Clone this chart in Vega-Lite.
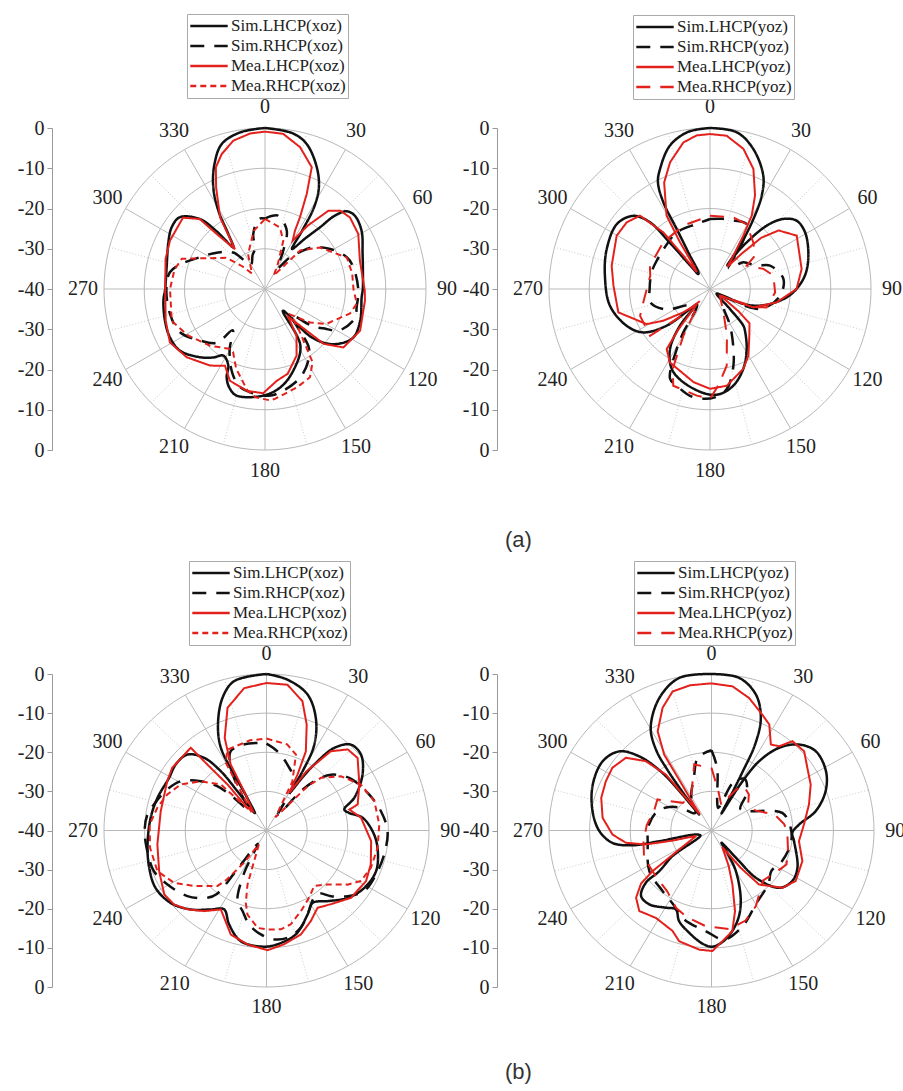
{
"$schema":"https://vega.github.io/schema/vega-lite/v6.json",
"padding":{"left":17,"top":13,"right":2,"bottom":2},
"config":{"view":{"stroke":null},"font":"Liberation Serif"},
"datasets":{
"rings":[{"t":0,"lv":[-30,-20,-10,0]},{"t":10,"lv":[-30,-20,-10,0]},{"t":20,"lv":[-30,-20,-10,0]},{"t":30,"lv":[-30,-20,-10,0]},{"t":40,"lv":[-30,-20,-10,0]},{"t":50,"lv":[-30,-20,-10,0]},{"t":60,"lv":[-30,-20,-10,0]},{"t":70,"lv":[-30,-20,-10,0]},{"t":80,"lv":[-30,-20,-10,0]},{"t":90,"lv":[-30,-20,-10,0]},{"t":100,"lv":[-30,-20,-10,0]},{"t":110,"lv":[-30,-20,-10,0]},{"t":120,"lv":[-30,-20,-10,0]},{"t":130,"lv":[-30,-20,-10,0]},{"t":140,"lv":[-30,-20,-10,0]},{"t":150,"lv":[-30,-20,-10,0]},{"t":160,"lv":[-30,-20,-10,0]},{"t":170,"lv":[-30,-20,-10,0]},{"t":180,"lv":[-30,-20,-10,0]},{"t":190,"lv":[-30,-20,-10,0]},{"t":200,"lv":[-30,-20,-10,0]},{"t":210,"lv":[-30,-20,-10,0]},{"t":220,"lv":[-30,-20,-10,0]},{"t":230,"lv":[-30,-20,-10,0]},{"t":240,"lv":[-30,-20,-10,0]},{"t":250,"lv":[-30,-20,-10,0]},{"t":260,"lv":[-30,-20,-10,0]},{"t":270,"lv":[-30,-20,-10,0]},{"t":280,"lv":[-30,-20,-10,0]},{"t":290,"lv":[-30,-20,-10,0]},{"t":300,"lv":[-30,-20,-10,0]},{"t":310,"lv":[-30,-20,-10,0]},{"t":320,"lv":[-30,-20,-10,0]},{"t":330,"lv":[-30,-20,-10,0]},{"t":340,"lv":[-30,-20,-10,0]},{"t":350,"lv":[-30,-20,-10,0]}],
"spokes":[{"t":0,"k":"major"},{"t":15,"k":"minor"},{"t":30,"k":"major"},{"t":45,"k":"minor"},{"t":60,"k":"major"},{"t":75,"k":"minor"},{"t":90,"k":"major"},{"t":105,"k":"minor"},{"t":120,"k":"major"},{"t":135,"k":"minor"},{"t":150,"k":"major"},{"t":165,"k":"minor"},{"t":180,"k":"major"},{"t":195,"k":"minor"},{"t":210,"k":"major"},{"t":225,"k":"minor"},{"t":240,"k":"major"},{"t":255,"k":"minor"},{"t":270,"k":"major"},{"t":285,"k":"minor"},{"t":300,"k":"major"},{"t":315,"k":"minor"},{"t":330,"k":"major"},{"t":345,"k":"minor"}],
"curves":[
{"p":"a1","s":"Sim.LHCP","t":0,"d":0},{"p":"a1","s":"Sim.LHCP","t":10,"d":-0.7},{"p":"a1","s":"Sim.LHCP","t":16,"d":-2.5},{"p":"a1","s":"Sim.LHCP","t":23,"d":-7.1},{"p":"a1","s":"Sim.LHCP","t":28,"d":-11.5},{"p":"a1","s":"Sim.LHCP","t":31,"d":-16.4},{"p":"a1","s":"Sim.LHCP","t":32.5,"d":-22.9},{"p":"a1","s":"Sim.LHCP","t":34,"d":-28},{"p":"a1","s":"Sim.LHCP","t":38.6,"d":-23.8},{"p":"a1","s":"Sim.LHCP","t":41.7,"d":-19.5},{"p":"a1","s":"Sim.LHCP","t":43.5,"d":-15},{"p":"a1","s":"Sim.LHCP","t":46.4,"d":-12},{"p":"a1","s":"Sim.LHCP","t":50.8,"d":-11.2},{"p":"a1","s":"Sim.LHCP","t":59,"d":-12},{"p":"a1","s":"Sim.LHCP","t":70,"d":-14.2},{"p":"a1","s":"Sim.LHCP","t":80,"d":-15.3},{"p":"a1","s":"Sim.LHCP","t":90,"d":-15.7},{"p":"a1","s":"Sim.LHCP","t":95,"d":-15.9},{"p":"a1","s":"Sim.LHCP","t":108,"d":-15.1},{"p":"a1","s":"Sim.LHCP","t":119,"d":-15},{"p":"a1","s":"Sim.LHCP","t":129,"d":-18.2},{"p":"a1","s":"Sim.LHCP","t":136,"d":-23.3},{"p":"a1","s":"Sim.LHCP","t":140.6,"d":-33},{"p":"a1","s":"Sim.LHCP","t":148,"d":-23.4},{"p":"a1","s":"Sim.LHCP","t":161,"d":-18.5},{"p":"a1","s":"Sim.LHCP","t":171,"d":-15.3},{"p":"a1","s":"Sim.LHCP","t":181,"d":-13.5},{"p":"a1","s":"Sim.LHCP","t":195,"d":-12.6},{"p":"a1","s":"Sim.LHCP","t":200,"d":-14},{"p":"a1","s":"Sim.LHCP","t":203.5,"d":-16.1},{"p":"a1","s":"Sim.LHCP","t":205.6,"d":-18.9},{"p":"a1","s":"Sim.LHCP","t":212,"d":-20.5},{"p":"a1","s":"Sim.LHCP","t":217,"d":-18.7},{"p":"a1","s":"Sim.LHCP","t":223.6,"d":-16.6},{"p":"a1","s":"Sim.LHCP","t":234,"d":-13.9},{"p":"a1","s":"Sim.LHCP","t":243,"d":-13.5},{"p":"a1","s":"Sim.LHCP","t":252,"d":-13.9},{"p":"a1","s":"Sim.LHCP","t":263.5,"d":-14.6},{"p":"a1","s":"Sim.LHCP","t":270,"d":-15.2},{"p":"a1","s":"Sim.LHCP","t":282,"d":-15},{"p":"a1","s":"Sim.LHCP","t":296.6,"d":-13.2},{"p":"a1","s":"Sim.LHCP","t":303.5,"d":-12.2},{"p":"a1","s":"Sim.LHCP","t":310,"d":-12.3},{"p":"a1","s":"Sim.LHCP","t":317,"d":-16.2},{"p":"a1","s":"Sim.LHCP","t":320,"d":-21.2},{"p":"a1","s":"Sim.LHCP","t":322.8,"d":-27},{"p":"a1","s":"Sim.LHCP","t":326.3,"d":-23.6},{"p":"a1","s":"Sim.LHCP","t":329.2,"d":-17.4},{"p":"a1","s":"Sim.LHCP","t":333,"d":-11.7},{"p":"a1","s":"Sim.LHCP","t":338,"d":-6.5},{"p":"a1","s":"Sim.LHCP","t":343.4,"d":-2.4},{"p":"a1","s":"Sim.LHCP","t":351,"d":-0.6},{"p":"a1","s":"Sim.LHCP","t":360,"d":0},
{"p":"a1","s":"Mea.LHCP","t":0,"d":-0.9},{"p":"a1","s":"Mea.LHCP","t":6.7,"d":-1.2},{"p":"a1","s":"Mea.LHCP","t":13.9,"d":-3.7},{"p":"a1","s":"Mea.LHCP","t":21,"d":-7.6},{"p":"a1","s":"Mea.LHCP","t":23.7,"d":-14.2},{"p":"a1","s":"Mea.LHCP","t":26,"d":-20.2},{"p":"a1","s":"Mea.LHCP","t":27.2,"d":-23.7},{"p":"a1","s":"Mea.LHCP","t":29.8,"d":-26.2},{"p":"a1","s":"Mea.LHCP","t":34,"d":-21},{"p":"a1","s":"Mea.LHCP","t":39,"d":-15},{"p":"a1","s":"Mea.LHCP","t":44,"d":-13},{"p":"a1","s":"Mea.LHCP","t":49.9,"d":-12.4},{"p":"a1","s":"Mea.LHCP","t":59.5,"d":-13.1},{"p":"a1","s":"Mea.LHCP","t":73.4,"d":-15.4},{"p":"a1","s":"Mea.LHCP","t":91,"d":-15.2},{"p":"a1","s":"Mea.LHCP","t":96.7,"d":-15},{"p":"a1","s":"Mea.LHCP","t":113.7,"d":-14.2},{"p":"a1","s":"Mea.LHCP","t":126.7,"d":-15.7},{"p":"a1","s":"Mea.LHCP","t":133,"d":-20},{"p":"a1","s":"Mea.LHCP","t":140,"d":-31},{"p":"a1","s":"Mea.LHCP","t":146,"d":-26},{"p":"a1","s":"Mea.LHCP","t":154.6,"d":-21.7},{"p":"a1","s":"Mea.LHCP","t":165,"d":-18.2},{"p":"a1","s":"Mea.LHCP","t":172.7,"d":-17},{"p":"a1","s":"Mea.LHCP","t":181,"d":-14.1},{"p":"a1","s":"Mea.LHCP","t":190,"d":-14.3},{"p":"a1","s":"Mea.LHCP","t":201,"d":-15.6},{"p":"a1","s":"Mea.LHCP","t":207.5,"d":-18.5},{"p":"a1","s":"Mea.LHCP","t":210.4,"d":-17.9},{"p":"a1","s":"Mea.LHCP","t":215.6,"d":-16.6},{"p":"a1","s":"Mea.LHCP","t":228.9,"d":-14.2},{"p":"a1","s":"Mea.LHCP","t":240.7,"d":-12.9},{"p":"a1","s":"Mea.LHCP","t":252.3,"d":-14.1},{"p":"a1","s":"Mea.LHCP","t":270,"d":-15.2},{"p":"a1","s":"Mea.LHCP","t":286.8,"d":-14.2},{"p":"a1","s":"Mea.LHCP","t":297,"d":-13.5},{"p":"a1","s":"Mea.LHCP","t":311,"d":-13},{"p":"a1","s":"Mea.LHCP","t":317,"d":-16.2},{"p":"a1","s":"Mea.LHCP","t":318.7,"d":-21.8},{"p":"a1","s":"Mea.LHCP","t":323,"d":-27.6},{"p":"a1","s":"Mea.LHCP","t":327.9,"d":-19},{"p":"a1","s":"Mea.LHCP","t":334.3,"d":-12},{"p":"a1","s":"Mea.LHCP","t":338,"d":-7.4},{"p":"a1","s":"Mea.LHCP","t":342.2,"d":-4.8},{"p":"a1","s":"Mea.LHCP","t":348,"d":-2.3},{"p":"a1","s":"Mea.LHCP","t":354.5,"d":-1.2},{"p":"a1","s":"Mea.LHCP","t":360,"d":-0.9},
{"p":"a1","s":"Sim.RHCP","t":0,"d":-22.5},{"p":"a1","s":"Sim.RHCP","t":5,"d":-21.8},{"p":"a1","s":"Sim.RHCP","t":10.3,"d":-21.5},{"p":"a1","s":"Sim.RHCP","t":20.4,"d":-24.5},{"p":"a1","s":"Sim.RHCP","t":26,"d":-30},{"p":"a1","s":"Sim.RHCP","t":31,"d":-34},{"p":"a1","s":"Sim.RHCP","t":38,"d":-30},{"p":"a1","s":"Sim.RHCP","t":44,"d":-27},{"p":"a1","s":"Sim.RHCP","t":49,"d":-24.2},{"p":"a1","s":"Sim.RHCP","t":58.4,"d":-21},{"p":"a1","s":"Sim.RHCP","t":68.8,"d":-18.2},{"p":"a1","s":"Sim.RHCP","t":76,"d":-17.4},{"p":"a1","s":"Sim.RHCP","t":91,"d":-16.8},{"p":"a1","s":"Sim.RHCP","t":101,"d":-16.8},{"p":"a1","s":"Sim.RHCP","t":108,"d":-16.5},{"p":"a1","s":"Sim.RHCP","t":119.6,"d":-19},{"p":"a1","s":"Sim.RHCP","t":123,"d":-21.8},{"p":"a1","s":"Sim.RHCP","t":128,"d":-25},{"p":"a1","s":"Sim.RHCP","t":135,"d":-31},{"p":"a1","s":"Sim.RHCP","t":140,"d":-27},{"p":"a1","s":"Sim.RHCP","t":143,"d":-22},{"p":"a1","s":"Sim.RHCP","t":148,"d":-19.5},{"p":"a1","s":"Sim.RHCP","t":158,"d":-16.4},{"p":"a1","s":"Sim.RHCP","t":170,"d":-14.3},{"p":"a1","s":"Sim.RHCP","t":177,"d":-13.5},{"p":"a1","s":"Sim.RHCP","t":185,"d":-13.8},{"p":"a1","s":"Sim.RHCP","t":195,"d":-15},{"p":"a1","s":"Sim.RHCP","t":200,"d":-17},{"p":"a1","s":"Sim.RHCP","t":203,"d":-18.5},{"p":"a1","s":"Sim.RHCP","t":206.6,"d":-20.5},{"p":"a1","s":"Sim.RHCP","t":211,"d":-23},{"p":"a1","s":"Sim.RHCP","t":218,"d":-27},{"p":"a1","s":"Sim.RHCP","t":222,"d":-22},{"p":"a1","s":"Sim.RHCP","t":231.5,"d":-19.4},{"p":"a1","s":"Sim.RHCP","t":243,"d":-16.3},{"p":"a1","s":"Sim.RHCP","t":255,"d":-15.6},{"p":"a1","s":"Sim.RHCP","t":270,"d":-15.5},{"p":"a1","s":"Sim.RHCP","t":280,"d":-16},{"p":"a1","s":"Sim.RHCP","t":286,"d":-18},{"p":"a1","s":"Sim.RHCP","t":296,"d":-22},{"p":"a1","s":"Sim.RHCP","t":307,"d":-25},{"p":"a1","s":"Sim.RHCP","t":319,"d":-28},{"p":"a1","s":"Sim.RHCP","t":330,"d":-33},{"p":"a1","s":"Sim.RHCP","t":340,"d":-31},{"p":"a1","s":"Sim.RHCP","t":346,"d":-29.7},{"p":"a1","s":"Sim.RHCP","t":348,"d":-26},{"p":"a1","s":"Sim.RHCP","t":355,"d":-22.5},{"p":"a1","s":"Sim.RHCP","t":360,"d":-22.5},
{"p":"a1","s":"Mea.RHCP","t":0,"d":-22.6},{"p":"a1","s":"Mea.RHCP","t":13.7,"d":-24.3},{"p":"a1","s":"Mea.RHCP","t":20.8,"d":-27.2},{"p":"a1","s":"Mea.RHCP","t":27,"d":-33},{"p":"a1","s":"Mea.RHCP","t":33,"d":-36},{"p":"a1","s":"Mea.RHCP","t":42.4,"d":-27},{"p":"a1","s":"Mea.RHCP","t":53,"d":-22.9},{"p":"a1","s":"Mea.RHCP","t":69,"d":-18.2},{"p":"a1","s":"Mea.RHCP","t":80,"d":-18},{"p":"a1","s":"Mea.RHCP","t":90.5,"d":-18},{"p":"a1","s":"Mea.RHCP","t":99,"d":-16.9},{"p":"a1","s":"Mea.RHCP","t":106,"d":-18},{"p":"a1","s":"Mea.RHCP","t":115,"d":-21.3},{"p":"a1","s":"Mea.RHCP","t":119.6,"d":-22.4},{"p":"a1","s":"Mea.RHCP","t":126.5,"d":-26},{"p":"a1","s":"Mea.RHCP","t":135,"d":-31},{"p":"a1","s":"Mea.RHCP","t":140,"d":-27},{"p":"a1","s":"Mea.RHCP","t":147,"d":-18.3},{"p":"a1","s":"Mea.RHCP","t":153,"d":-15.4},{"p":"a1","s":"Mea.RHCP","t":162,"d":-14.3},{"p":"a1","s":"Mea.RHCP","t":174.8,"d":-12.6},{"p":"a1","s":"Mea.RHCP","t":177.4,"d":-12.3},{"p":"a1","s":"Mea.RHCP","t":185,"d":-13},{"p":"a1","s":"Mea.RHCP","t":190,"d":-14.5},{"p":"a1","s":"Mea.RHCP","t":200,"d":-19},{"p":"a1","s":"Mea.RHCP","t":207,"d":-22.5},{"p":"a1","s":"Mea.RHCP","t":210,"d":-22.8},{"p":"a1","s":"Mea.RHCP","t":224,"d":-20.4},{"p":"a1","s":"Mea.RHCP","t":238.7,"d":-17.7},{"p":"a1","s":"Mea.RHCP","t":251,"d":-15.5},{"p":"a1","s":"Mea.RHCP","t":270,"d":-16.4},{"p":"a1","s":"Mea.RHCP","t":282,"d":-17},{"p":"a1","s":"Mea.RHCP","t":290,"d":-18},{"p":"a1","s":"Mea.RHCP","t":295,"d":-22},{"p":"a1","s":"Mea.RHCP","t":309,"d":-27.7},{"p":"a1","s":"Mea.RHCP","t":315,"d":-32},{"p":"a1","s":"Mea.RHCP","t":320,"d":-35},{"p":"a1","s":"Mea.RHCP","t":334,"d":-30.4},{"p":"a1","s":"Mea.RHCP","t":349,"d":-25.3},{"p":"a1","s":"Mea.RHCP","t":360,"d":-22.6},
{"p":"a2","s":"Sim.LHCP","t":0,"d":0},{"p":"a2","s":"Sim.LHCP","t":9.7,"d":-0.5},{"p":"a2","s":"Sim.LHCP","t":17.2,"d":-3.6},{"p":"a2","s":"Sim.LHCP","t":25.2,"d":-8.9},{"p":"a2","s":"Sim.LHCP","t":29,"d":-13.5},{"p":"a2","s":"Sim.LHCP","t":31.8,"d":-19.5},{"p":"a2","s":"Sim.LHCP","t":34.7,"d":-26.9},{"p":"a2","s":"Sim.LHCP","t":36,"d":-32.7},{"p":"a2","s":"Sim.LHCP","t":37,"d":-27.6},{"p":"a2","s":"Sim.LHCP","t":41.8,"d":-18.9},{"p":"a2","s":"Sim.LHCP","t":46.3,"d":-14.8},{"p":"a2","s":"Sim.LHCP","t":51.7,"d":-12.6},{"p":"a2","s":"Sim.LHCP","t":59.2,"d":-12.5},{"p":"a2","s":"Sim.LHCP","t":71.3,"d":-14.2},{"p":"a2","s":"Sim.LHCP","t":82,"d":-16.2},{"p":"a2","s":"Sim.LHCP","t":92.3,"d":-19.3},{"p":"a2","s":"Sim.LHCP","t":99.5,"d":-22.4},{"p":"a2","s":"Sim.LHCP","t":108.4,"d":-26.9},{"p":"a2","s":"Sim.LHCP","t":114,"d":-30.9},{"p":"a2","s":"Sim.LHCP","t":117,"d":-36.3},{"p":"a2","s":"Sim.LHCP","t":125,"d":-38},{"p":"a2","s":"Sim.LHCP","t":135,"d":-33},{"p":"a2","s":"Sim.LHCP","t":137.7,"d":-27.7},{"p":"a2","s":"Sim.LHCP","t":140,"d":-26.5},{"p":"a2","s":"Sim.LHCP","t":148.6,"d":-22.5},{"p":"a2","s":"Sim.LHCP","t":157.4,"d":-18.5},{"p":"a2","s":"Sim.LHCP","t":166.4,"d":-15.3},{"p":"a2","s":"Sim.LHCP","t":174.6,"d":-13.8},{"p":"a2","s":"Sim.LHCP","t":181.8,"d":-13.9},{"p":"a2","s":"Sim.LHCP","t":196,"d":-15.9},{"p":"a2","s":"Sim.LHCP","t":205.6,"d":-18},{"p":"a2","s":"Sim.LHCP","t":213.7,"d":-22.1},{"p":"a2","s":"Sim.LHCP","t":219.3,"d":-28.2},{"p":"a2","s":"Sim.LHCP","t":221,"d":-35},{"p":"a2","s":"Sim.LHCP","t":225,"d":-33},{"p":"a2","s":"Sim.LHCP","t":229.8,"d":-25.9},{"p":"a2","s":"Sim.LHCP","t":237,"d":-20.2},{"p":"a2","s":"Sim.LHCP","t":246,"d":-17.4},{"p":"a2","s":"Sim.LHCP","t":260.5,"d":-14.8},{"p":"a2","s":"Sim.LHCP","t":277,"d":-13.7},{"p":"a2","s":"Sim.LHCP","t":291,"d":-12.5},{"p":"a2","s":"Sim.LHCP","t":305,"d":-11.8},{"p":"a2","s":"Sim.LHCP","t":313.7,"d":-13.7},{"p":"a2","s":"Sim.LHCP","t":318,"d":-17.7},{"p":"a2","s":"Sim.LHCP","t":319,"d":-24.8},{"p":"a2","s":"Sim.LHCP","t":320,"d":-32.4},{"p":"a2","s":"Sim.LHCP","t":322,"d":-35.3},{"p":"a2","s":"Sim.LHCP","t":325,"d":-35},{"p":"a2","s":"Sim.LHCP","t":329,"d":-30.3},{"p":"a2","s":"Sim.LHCP","t":331,"d":-23},{"p":"a2","s":"Sim.LHCP","t":331.7,"d":-15.6},{"p":"a2","s":"Sim.LHCP","t":334,"d":-10.5},{"p":"a2","s":"Sim.LHCP","t":337.4,"d":-7.7},{"p":"a2","s":"Sim.LHCP","t":344.4,"d":-3},{"p":"a2","s":"Sim.LHCP","t":352,"d":-0.6},{"p":"a2","s":"Sim.LHCP","t":360,"d":0},
{"p":"a2","s":"Mea.LHCP","t":0,"d":-1.5},{"p":"a2","s":"Mea.LHCP","t":6.2,"d":-1.7},{"p":"a2","s":"Mea.LHCP","t":13.4,"d":-4.2},{"p":"a2","s":"Mea.LHCP","t":19.9,"d":-8.3},{"p":"a2","s":"Mea.LHCP","t":25.7,"d":-14.2},{"p":"a2","s":"Mea.LHCP","t":29.6,"d":-19},{"p":"a2","s":"Mea.LHCP","t":32,"d":-24.4},{"p":"a2","s":"Mea.LHCP","t":35,"d":-29.9},{"p":"a2","s":"Mea.LHCP","t":38,"d":-33},{"p":"a2","s":"Mea.LHCP","t":42,"d":-28},{"p":"a2","s":"Mea.LHCP","t":45,"d":-22},{"p":"a2","s":"Mea.LHCP","t":49.5,"d":-17.6},{"p":"a2","s":"Mea.LHCP","t":58.4,"d":-14.7},{"p":"a2","s":"Mea.LHCP","t":77.7,"d":-16.7},{"p":"a2","s":"Mea.LHCP","t":90,"d":-18.5},{"p":"a2","s":"Mea.LHCP","t":101.3,"d":-23.1},{"p":"a2","s":"Mea.LHCP","t":113,"d":-28.3},{"p":"a2","s":"Mea.LHCP","t":116,"d":-33.7},{"p":"a2","s":"Mea.LHCP","t":122,"d":-37},{"p":"a2","s":"Mea.LHCP","t":128,"d":-31},{"p":"a2","s":"Mea.LHCP","t":131,"d":-27},{"p":"a2","s":"Mea.LHCP","t":140,"d":-24.8},{"p":"a2","s":"Mea.LHCP","t":150,"d":-20.9},{"p":"a2","s":"Mea.LHCP","t":157.4,"d":-18.5},{"p":"a2","s":"Mea.LHCP","t":170.2,"d":-15.6},{"p":"a2","s":"Mea.LHCP","t":180,"d":-15.2},{"p":"a2","s":"Mea.LHCP","t":190,"d":-16.5},{"p":"a2","s":"Mea.LHCP","t":208.6,"d":-19.2},{"p":"a2","s":"Mea.LHCP","t":215.8,"d":-21.6},{"p":"a2","s":"Mea.LHCP","t":218,"d":-27.2},{"p":"a2","s":"Mea.LHCP","t":221,"d":-35},{"p":"a2","s":"Mea.LHCP","t":228.8,"d":-31.2},{"p":"a2","s":"Mea.LHCP","t":235.8,"d":-26},{"p":"a2","s":"Mea.LHCP","t":241,"d":-22},{"p":"a2","s":"Mea.LHCP","t":255.7,"d":-16.5},{"p":"a2","s":"Mea.LHCP","t":272,"d":-16},{"p":"a2","s":"Mea.LHCP","t":283.3,"d":-14.9},{"p":"a2","s":"Mea.LHCP","t":299.7,"d":-13.3},{"p":"a2","s":"Mea.LHCP","t":308.7,"d":-13.5},{"p":"a2","s":"Mea.LHCP","t":316.3,"d":-14.8},{"p":"a2","s":"Mea.LHCP","t":320.5,"d":-21.8},{"p":"a2","s":"Mea.LHCP","t":321.3,"d":-29.4},{"p":"a2","s":"Mea.LHCP","t":322,"d":-34.7},{"p":"a2","s":"Mea.LHCP","t":325,"d":-33},{"p":"a2","s":"Mea.LHCP","t":327.3,"d":-26.2},{"p":"a2","s":"Mea.LHCP","t":329.4,"d":-18.8},{"p":"a2","s":"Mea.LHCP","t":336.7,"d":-11.2},{"p":"a2","s":"Mea.LHCP","t":342.5,"d":-7},{"p":"a2","s":"Mea.LHCP","t":349.7,"d":-3},{"p":"a2","s":"Mea.LHCP","t":355,"d":-1.7},{"p":"a2","s":"Mea.LHCP","t":360,"d":-1.5},
{"p":"a2","s":"Sim.RHCP","t":0,"d":-22.6},{"p":"a2","s":"Sim.RHCP","t":10,"d":-22.3},{"p":"a2","s":"Sim.RHCP","t":19,"d":-22},{"p":"a2","s":"Sim.RHCP","t":29.4,"d":-21.5},{"p":"a2","s":"Sim.RHCP","t":35,"d":-26},{"p":"a2","s":"Sim.RHCP","t":42,"d":-33},{"p":"a2","s":"Sim.RHCP","t":48,"d":-31},{"p":"a2","s":"Sim.RHCP","t":51.3,"d":-29.4},{"p":"a2","s":"Sim.RHCP","t":63.4,"d":-27},{"p":"a2","s":"Sim.RHCP","t":68.7,"d":-24},{"p":"a2","s":"Sim.RHCP","t":82,"d":-21.6},{"p":"a2","s":"Sim.RHCP","t":95.4,"d":-22.5},{"p":"a2","s":"Sim.RHCP","t":110,"d":-25.9},{"p":"a2","s":"Sim.RHCP","t":114.6,"d":-29},{"p":"a2","s":"Sim.RHCP","t":125,"d":-36},{"p":"a2","s":"Sim.RHCP","t":145,"d":-34},{"p":"a2","s":"Sim.RHCP","t":150,"d":-30.7},{"p":"a2","s":"Sim.RHCP","t":155,"d":-27},{"p":"a2","s":"Sim.RHCP","t":163,"d":-20.1},{"p":"a2","s":"Sim.RHCP","t":170.5,"d":-14.8},{"p":"a2","s":"Sim.RHCP","t":178,"d":-13},{"p":"a2","s":"Sim.RHCP","t":183.5,"d":-12.7},{"p":"a2","s":"Sim.RHCP","t":190.6,"d":-13},{"p":"a2","s":"Sim.RHCP","t":199,"d":-14.6},{"p":"a2","s":"Sim.RHCP","t":204,"d":-15.6},{"p":"a2","s":"Sim.RHCP","t":209,"d":-23},{"p":"a2","s":"Sim.RHCP","t":211.6,"d":-27.3},{"p":"a2","s":"Sim.RHCP","t":220,"d":-35},{"p":"a2","s":"Sim.RHCP","t":235,"d":-33},{"p":"a2","s":"Sim.RHCP","t":245,"d":-28},{"p":"a2","s":"Sim.RHCP","t":257.5,"d":-24.8},{"p":"a2","s":"Sim.RHCP","t":270,"d":-25},{"p":"a2","s":"Sim.RHCP","t":286,"d":-24.9},{"p":"a2","s":"Sim.RHCP","t":300,"d":-25},{"p":"a2","s":"Sim.RHCP","t":310.6,"d":-24.8},{"p":"a2","s":"Sim.RHCP","t":329.5,"d":-23.7},{"p":"a2","s":"Sim.RHCP","t":348.4,"d":-23.5},{"p":"a2","s":"Sim.RHCP","t":360,"d":-22.6},
{"p":"a2","s":"Mea.RHCP","t":0,"d":-21.8},{"p":"a2","s":"Mea.RHCP","t":18,"d":-21.3},{"p":"a2","s":"Mea.RHCP","t":29.4,"d":-21.5},{"p":"a2","s":"Mea.RHCP","t":42.9,"d":-24.2},{"p":"a2","s":"Mea.RHCP","t":53.5,"d":-26.1},{"p":"a2","s":"Mea.RHCP","t":57.5,"d":-29.2},{"p":"a2","s":"Mea.RHCP","t":69.4,"d":-25.8},{"p":"a2","s":"Mea.RHCP","t":78,"d":-23.9},{"p":"a2","s":"Mea.RHCP","t":93,"d":-23.8},{"p":"a2","s":"Mea.RHCP","t":108,"d":-25.2},{"p":"a2","s":"Mea.RHCP","t":111.4,"d":-27.6},{"p":"a2","s":"Mea.RHCP","t":125,"d":-37},{"p":"a2","s":"Mea.RHCP","t":150,"d":-33.3},{"p":"a2","s":"Mea.RHCP","t":160,"d":-27.7},{"p":"a2","s":"Mea.RHCP","t":167.7,"d":-20.5},{"p":"a2","s":"Mea.RHCP","t":175,"d":-16},{"p":"a2","s":"Mea.RHCP","t":180,"d":-12.7},{"p":"a2","s":"Mea.RHCP","t":187,"d":-13.3},{"p":"a2","s":"Mea.RHCP","t":200.8,"d":-14.3},{"p":"a2","s":"Mea.RHCP","t":205,"d":-18},{"p":"a2","s":"Mea.RHCP","t":209.7,"d":-26.7},{"p":"a2","s":"Mea.RHCP","t":220,"d":-36},{"p":"a2","s":"Mea.RHCP","t":227,"d":-30},{"p":"a2","s":"Mea.RHCP","t":232,"d":-21.1},{"p":"a2","s":"Mea.RHCP","t":249,"d":-21.4},{"p":"a2","s":"Mea.RHCP","t":258.7,"d":-23.1},{"p":"a2","s":"Mea.RHCP","t":282.5,"d":-24.8},{"p":"a2","s":"Mea.RHCP","t":291,"d":-24},{"p":"a2","s":"Mea.RHCP","t":315,"d":-23.6},{"p":"a2","s":"Mea.RHCP","t":337,"d":-22.9},{"p":"a2","s":"Mea.RHCP","t":360,"d":-21.8},
{"p":"b1","s":"Sim.LHCP","t":0,"d":0},{"p":"b1","s":"Sim.LHCP","t":7.6,"d":-1.1},{"p":"b1","s":"Sim.LHCP","t":16.2,"d":-3.8},{"p":"b1","s":"Sim.LHCP","t":22.9,"d":-8.8},{"p":"b1","s":"Sim.LHCP","t":28.2,"d":-15.1},{"p":"b1","s":"Sim.LHCP","t":30.4,"d":-22.4},{"p":"b1","s":"Sim.LHCP","t":31,"d":-28.5},{"p":"b1","s":"Sim.LHCP","t":33,"d":-24},{"p":"b1","s":"Sim.LHCP","t":34.9,"d":-19.4},{"p":"b1","s":"Sim.LHCP","t":38.3,"d":-13.1},{"p":"b1","s":"Sim.LHCP","t":43.4,"d":-9.8},{"p":"b1","s":"Sim.LHCP","t":50.1,"d":-9.7},{"p":"b1","s":"Sim.LHCP","t":58.9,"d":-12.4},{"p":"b1","s":"Sim.LHCP","t":68.8,"d":-16.8},{"p":"b1","s":"Sim.LHCP","t":74.3,"d":-20.1},{"p":"b1","s":"Sim.LHCP","t":77.5,"d":-19.2},{"p":"b1","s":"Sim.LHCP","t":82.2,"d":-16.1},{"p":"b1","s":"Sim.LHCP","t":92.2,"d":-13.5},{"p":"b1","s":"Sim.LHCP","t":100.9,"d":-12.1},{"p":"b1","s":"Sim.LHCP","t":111.1,"d":-11.1},{"p":"b1","s":"Sim.LHCP","t":121.3,"d":-11.8},{"p":"b1","s":"Sim.LHCP","t":130.8,"d":-13.6},{"p":"b1","s":"Sim.LHCP","t":140.2,"d":-16.5},{"p":"b1","s":"Sim.LHCP","t":148.5,"d":-18.3},{"p":"b1","s":"Sim.LHCP","t":154.7,"d":-16.3},{"p":"b1","s":"Sim.LHCP","t":164.8,"d":-12.5},{"p":"b1","s":"Sim.LHCP","t":174.7,"d":-10.8},{"p":"b1","s":"Sim.LHCP","t":181.1,"d":-10.3},{"p":"b1","s":"Sim.LHCP","t":192.6,"d":-11},{"p":"b1","s":"Sim.LHCP","t":201,"d":-14.3},{"p":"b1","s":"Sim.LHCP","t":207.4,"d":-17.3},{"p":"b1","s":"Sim.LHCP","t":214.2,"d":-15.6},{"p":"b1","s":"Sim.LHCP","t":222.8,"d":-12.5},{"p":"b1","s":"Sim.LHCP","t":231.9,"d":-10},{"p":"b1","s":"Sim.LHCP","t":241.8,"d":-9},{"p":"b1","s":"Sim.LHCP","t":251.8,"d":-9.6},{"p":"b1","s":"Sim.LHCP","t":263,"d":-10.5},{"p":"b1","s":"Sim.LHCP","t":276.5,"d":-11.3},{"p":"b1","s":"Sim.LHCP","t":287.3,"d":-11.9},{"p":"b1","s":"Sim.LHCP","t":299.3,"d":-12.5},{"p":"b1","s":"Sim.LHCP","t":307,"d":-12},{"p":"b1","s":"Sim.LHCP","t":314.9,"d":-12.5},{"p":"b1","s":"Sim.LHCP","t":320.4,"d":-15.9},{"p":"b1","s":"Sim.LHCP","t":323.4,"d":-21.1},{"p":"b1","s":"Sim.LHCP","t":324.5,"d":-27.7},{"p":"b1","s":"Sim.LHCP","t":327,"d":-34.7},{"p":"b1","s":"Sim.LHCP","t":330.5,"d":-30},{"p":"b1","s":"Sim.LHCP","t":331,"d":-23.7},{"p":"b1","s":"Sim.LHCP","t":332,"d":-16.1},{"p":"b1","s":"Sim.LHCP","t":336.2,"d":-10.4},{"p":"b1","s":"Sim.LHCP","t":342.3,"d":-4.4},{"p":"b1","s":"Sim.LHCP","t":348.2,"d":-1},{"p":"b1","s":"Sim.LHCP","t":360,"d":0},
{"p":"b1","s":"Mea.LHCP","t":0,"d":-2.3},{"p":"b1","s":"Mea.LHCP","t":7.9,"d":-2.4},{"p":"b1","s":"Mea.LHCP","t":15,"d":-5.8},{"p":"b1","s":"Mea.LHCP","t":20.1,"d":-11.2},{"p":"b1","s":"Mea.LHCP","t":25.6,"d":-17.6},{"p":"b1","s":"Mea.LHCP","t":28.1,"d":-23.8},{"p":"b1","s":"Mea.LHCP","t":30.3,"d":-28.9},{"p":"b1","s":"Mea.LHCP","t":33,"d":-22},{"p":"b1","s":"Mea.LHCP","t":38,"d":-14.3},{"p":"b1","s":"Mea.LHCP","t":44,"d":-11.2},{"p":"b1","s":"Mea.LHCP","t":50.4,"d":-10.9},{"p":"b1","s":"Mea.LHCP","t":62.8,"d":-14.3},{"p":"b1","s":"Mea.LHCP","t":73.5,"d":-16.6},{"p":"b1","s":"Mea.LHCP","t":75.3,"d":-18.9},{"p":"b1","s":"Mea.LHCP","t":82,"d":-16.5},{"p":"b1","s":"Mea.LHCP","t":96,"d":-14.1},{"p":"b1","s":"Mea.LHCP","t":108.7,"d":-12.9},{"p":"b1","s":"Mea.LHCP","t":117.8,"d":-12.3},{"p":"b1","s":"Mea.LHCP","t":129.6,"d":-13},{"p":"b1","s":"Mea.LHCP","t":140,"d":-15.4},{"p":"b1","s":"Mea.LHCP","t":147.5,"d":-16.6},{"p":"b1","s":"Mea.LHCP","t":154.8,"d":-14.4},{"p":"b1","s":"Mea.LHCP","t":162.4,"d":-12.1},{"p":"b1","s":"Mea.LHCP","t":171.5,"d":-10.6},{"p":"b1","s":"Mea.LHCP","t":179.5,"d":-9.4},{"p":"b1","s":"Mea.LHCP","t":189.1,"d":-10.5},{"p":"b1","s":"Mea.LHCP","t":198.3,"d":-12},{"p":"b1","s":"Mea.LHCP","t":205.1,"d":-15.4},{"p":"b1","s":"Mea.LHCP","t":209.1,"d":-16.9},{"p":"b1","s":"Mea.LHCP","t":216.7,"d":-14.3},{"p":"b1","s":"Mea.LHCP","t":224,"d":-12},{"p":"b1","s":"Mea.LHCP","t":230.3,"d":-10.4},{"p":"b1","s":"Mea.LHCP","t":237,"d":-10},{"p":"b1","s":"Mea.LHCP","t":248.5,"d":-11.6},{"p":"b1","s":"Mea.LHCP","t":262.4,"d":-12.9},{"p":"b1","s":"Mea.LHCP","t":280.7,"d":-13.5},{"p":"b1","s":"Mea.LHCP","t":297.3,"d":-12.5},{"p":"b1","s":"Mea.LHCP","t":304.6,"d":-11.8},{"p":"b1","s":"Mea.LHCP","t":318.6,"d":-11.8},{"p":"b1","s":"Mea.LHCP","t":319.2,"d":-17.8},{"p":"b1","s":"Mea.LHCP","t":320.8,"d":-24.8},{"p":"b1","s":"Mea.LHCP","t":321,"d":-32.6},{"p":"b1","s":"Mea.LHCP","t":326,"d":-34},{"p":"b1","s":"Mea.LHCP","t":331.2,"d":-28.6},{"p":"b1","s":"Mea.LHCP","t":332.4,"d":-21},{"p":"b1","s":"Mea.LHCP","t":336.5,"d":-14.2},{"p":"b1","s":"Mea.LHCP","t":343,"d":-7.2},{"p":"b1","s":"Mea.LHCP","t":351.4,"d":-3.2},{"p":"b1","s":"Mea.LHCP","t":360,"d":-2.3},
{"p":"b1","s":"Sim.RHCP","t":0,"d":-17.8},{"p":"b1","s":"Sim.RHCP","t":7.6,"d":-19.6},{"p":"b1","s":"Sim.RHCP","t":17,"d":-22.4},{"p":"b1","s":"Sim.RHCP","t":28.4,"d":-25.7},{"p":"b1","s":"Sim.RHCP","t":35,"d":-35},{"p":"b1","s":"Sim.RHCP","t":40,"d":-26.9},{"p":"b1","s":"Sim.RHCP","t":43,"d":-22.8},{"p":"b1","s":"Sim.RHCP","t":48,"d":-18.7},{"p":"b1","s":"Sim.RHCP","t":56.6,"d":-15.6},{"p":"b1","s":"Sim.RHCP","t":68.9,"d":-13.3},{"p":"b1","s":"Sim.RHCP","t":80.1,"d":-11.4},{"p":"b1","s":"Sim.RHCP","t":90.3,"d":-10.2},{"p":"b1","s":"Sim.RHCP","t":101.9,"d":-10.4},{"p":"b1","s":"Sim.RHCP","t":112.6,"d":-10.8},{"p":"b1","s":"Sim.RHCP","t":122.7,"d":-11.4},{"p":"b1","s":"Sim.RHCP","t":130,"d":-13.9},{"p":"b1","s":"Sim.RHCP","t":136.6,"d":-16.9},{"p":"b1","s":"Sim.RHCP","t":141.4,"d":-19.4},{"p":"b1","s":"Sim.RHCP","t":147,"d":-19},{"p":"b1","s":"Sim.RHCP","t":152.4,"d":-17.2},{"p":"b1","s":"Sim.RHCP","t":161.2,"d":-13.8},{"p":"b1","s":"Sim.RHCP","t":169.3,"d":-12.1},{"p":"b1","s":"Sim.RHCP","t":176.1,"d":-12.1},{"p":"b1","s":"Sim.RHCP","t":183,"d":-13.4},{"p":"b1","s":"Sim.RHCP","t":190.1,"d":-15.6},{"p":"b1","s":"Sim.RHCP","t":196,"d":-18.6},{"p":"b1","s":"Sim.RHCP","t":201.6,"d":-20.6},{"p":"b1","s":"Sim.RHCP","t":207,"d":-28},{"p":"b1","s":"Sim.RHCP","t":212,"d":-36},{"p":"b1","s":"Sim.RHCP","t":216,"d":-27},{"p":"b1","s":"Sim.RHCP","t":217,"d":-19.7},{"p":"b1","s":"Sim.RHCP","t":220.2,"d":-17.5},{"p":"b1","s":"Sim.RHCP","t":229.3,"d":-14.3},{"p":"b1","s":"Sim.RHCP","t":240.5,"d":-12},{"p":"b1","s":"Sim.RHCP","t":249.4,"d":-10.4},{"p":"b1","s":"Sim.RHCP","t":259.8,"d":-10.2},{"p":"b1","s":"Sim.RHCP","t":269.7,"d":-10},{"p":"b1","s":"Sim.RHCP","t":277.9,"d":-10.4},{"p":"b1","s":"Sim.RHCP","t":283.5,"d":-11.5},{"p":"b1","s":"Sim.RHCP","t":293.2,"d":-13.4},{"p":"b1","s":"Sim.RHCP","t":300.8,"d":-15.4},{"p":"b1","s":"Sim.RHCP","t":307.9,"d":-19.5},{"p":"b1","s":"Sim.RHCP","t":313,"d":-23.4},{"p":"b1","s":"Sim.RHCP","t":316,"d":-28},{"p":"b1","s":"Sim.RHCP","t":320,"d":-33},{"p":"b1","s":"Sim.RHCP","t":328,"d":-26},{"p":"b1","s":"Sim.RHCP","t":332,"d":-21},{"p":"b1","s":"Sim.RHCP","t":336.5,"d":-17.9},{"p":"b1","s":"Sim.RHCP","t":345,"d":-17.3},{"p":"b1","s":"Sim.RHCP","t":354.4,"d":-17.5},{"p":"b1","s":"Sim.RHCP","t":360,"d":-17.8},
{"p":"b1","s":"Mea.RHCP","t":0,"d":-16.5},{"p":"b1","s":"Mea.RHCP","t":13,"d":-17.4},{"p":"b1","s":"Mea.RHCP","t":20.5,"d":-19.3},{"p":"b1","s":"Mea.RHCP","t":27,"d":-26},{"p":"b1","s":"Mea.RHCP","t":33,"d":-36},{"p":"b1","s":"Mea.RHCP","t":41.8,"d":-24.8},{"p":"b1","s":"Mea.RHCP","t":44.9,"d":-21},{"p":"b1","s":"Mea.RHCP","t":52.9,"d":-17},{"p":"b1","s":"Mea.RHCP","t":63.2,"d":-14},{"p":"b1","s":"Mea.RHCP","t":74.2,"d":-12.4},{"p":"b1","s":"Mea.RHCP","t":86.9,"d":-12.2},{"p":"b1","s":"Mea.RHCP","t":99.2,"d":-12.3},{"p":"b1","s":"Mea.RHCP","t":110.3,"d":-12.6},{"p":"b1","s":"Mea.RHCP","t":119,"d":-13.4},{"p":"b1","s":"Mea.RHCP","t":124.7,"d":-15.7},{"p":"b1","s":"Mea.RHCP","t":132.5,"d":-19.6},{"p":"b1","s":"Mea.RHCP","t":140.4,"d":-21.6},{"p":"b1","s":"Mea.RHCP","t":148,"d":-20},{"p":"b1","s":"Mea.RHCP","t":157.7,"d":-17.7},{"p":"b1","s":"Mea.RHCP","t":166,"d":-15.3},{"p":"b1","s":"Mea.RHCP","t":172,"d":-14.5},{"p":"b1","s":"Mea.RHCP","t":179.4,"d":-14.7},{"p":"b1","s":"Mea.RHCP","t":185,"d":-15},{"p":"b1","s":"Mea.RHCP","t":192.3,"d":-18},{"p":"b1","s":"Mea.RHCP","t":195.4,"d":-20.8},{"p":"b1","s":"Mea.RHCP","t":198.7,"d":-25.4},{"p":"b1","s":"Mea.RHCP","t":208,"d":-36},{"p":"b1","s":"Mea.RHCP","t":214,"d":-30},{"p":"b1","s":"Mea.RHCP","t":218,"d":-24},{"p":"b1","s":"Mea.RHCP","t":220.4,"d":-21.4},{"p":"b1","s":"Mea.RHCP","t":231.5,"d":-17.2},{"p":"b1","s":"Mea.RHCP","t":239.6,"d":-13.6},{"p":"b1","s":"Mea.RHCP","t":248.8,"d":-11.2},{"p":"b1","s":"Mea.RHCP","t":261.2,"d":-11},{"p":"b1","s":"Mea.RHCP","t":273,"d":-11.2},{"p":"b1","s":"Mea.RHCP","t":282.2,"d":-12.5},{"p":"b1","s":"Mea.RHCP","t":290.7,"d":-13.9},{"p":"b1","s":"Mea.RHCP","t":299,"d":-15.8},{"p":"b1","s":"Mea.RHCP","t":307.9,"d":-19.5},{"p":"b1","s":"Mea.RHCP","t":316.3,"d":-23.8},{"p":"b1","s":"Mea.RHCP","t":322,"d":-34},{"p":"b1","s":"Mea.RHCP","t":330,"d":-20},{"p":"b1","s":"Mea.RHCP","t":335,"d":-17.2},{"p":"b1","s":"Mea.RHCP","t":350,"d":-16.6},{"p":"b1","s":"Mea.RHCP","t":360,"d":-16.5},
{"p":"b2","s":"Sim.LHCP","t":0,"d":0},{"p":"b2","s":"Sim.LHCP","t":9.9,"d":-0.4},{"p":"b2","s":"Sim.LHCP","t":17.5,"d":-3.6},{"p":"b2","s":"Sim.LHCP","t":22.9,"d":-8.8},{"p":"b2","s":"Sim.LHCP","t":26,"d":-15.5},{"p":"b2","s":"Sim.LHCP","t":27,"d":-23},{"p":"b2","s":"Sim.LHCP","t":28,"d":-29.8},{"p":"b2","s":"Sim.LHCP","t":29.5,"d":-35},{"p":"b2","s":"Sim.LHCP","t":31,"d":-26.4},{"p":"b2","s":"Sim.LHCP","t":33.5,"d":-18.8},{"p":"b2","s":"Sim.LHCP","t":38.2,"d":-13.1},{"p":"b2","s":"Sim.LHCP","t":44.5,"d":-9.2},{"p":"b2","s":"Sim.LHCP","t":51.7,"d":-7.3},{"p":"b2","s":"Sim.LHCP","t":61.7,"d":-8},{"p":"b2","s":"Sim.LHCP","t":70.4,"d":-10.2},{"p":"b2","s":"Sim.LHCP","t":79.1,"d":-13.9},{"p":"b2","s":"Sim.LHCP","t":86,"d":-18.4},{"p":"b2","s":"Sim.LHCP","t":91.7,"d":-20.1},{"p":"b2","s":"Sim.LHCP","t":97.6,"d":-19.5},{"p":"b2","s":"Sim.LHCP","t":114.2,"d":-16.8},{"p":"b2","s":"Sim.LHCP","t":123,"d":-16.3},{"p":"b2","s":"Sim.LHCP","t":131.3,"d":-17.8},{"p":"b2","s":"Sim.LHCP","t":137.9,"d":-23.7},{"p":"b2","s":"Sim.LHCP","t":139,"d":-29.6},{"p":"b2","s":"Sim.LHCP","t":142,"d":-36},{"p":"b2","s":"Sim.LHCP","t":146,"d":-33},{"p":"b2","s":"Sim.LHCP","t":150,"d":-28},{"p":"b2","s":"Sim.LHCP","t":158.2,"d":-20.6},{"p":"b2","s":"Sim.LHCP","t":164.6,"d":-16},{"p":"b2","s":"Sim.LHCP","t":172.8,"d":-12},{"p":"b2","s":"Sim.LHCP","t":179.5,"d":-10.3},{"p":"b2","s":"Sim.LHCP","t":184.4,"d":-11},{"p":"b2","s":"Sim.LHCP","t":191.9,"d":-13.3},{"p":"b2","s":"Sim.LHCP","t":199,"d":-15.5},{"p":"b2","s":"Sim.LHCP","t":203.5,"d":-18},{"p":"b2","s":"Sim.LHCP","t":209.6,"d":-17.3},{"p":"b2","s":"Sim.LHCP","t":219,"d":-15.7},{"p":"b2","s":"Sim.LHCP","t":226,"d":-15.9},{"p":"b2","s":"Sim.LHCP","t":230.4,"d":-19},{"p":"b2","s":"Sim.LHCP","t":231,"d":-23.4},{"p":"b2","s":"Sim.LHCP","t":235.7,"d":-28.4},{"p":"b2","s":"Sim.LHCP","t":245,"d":-37},{"p":"b2","s":"Sim.LHCP","t":255,"d":-36},{"p":"b2","s":"Sim.LHCP","t":258,"d":-26.8},{"p":"b2","s":"Sim.LHCP","t":259,"d":-20.2},{"p":"b2","s":"Sim.LHCP","t":262.6,"d":-15.4},{"p":"b2","s":"Sim.LHCP","t":269.7,"d":-12.4},{"p":"b2","s":"Sim.LHCP","t":279.6,"d":-10.3},{"p":"b2","s":"Sim.LHCP","t":291.9,"d":-8.5},{"p":"b2","s":"Sim.LHCP","t":303.5,"d":-7.9},{"p":"b2","s":"Sim.LHCP","t":311.7,"d":-9.6},{"p":"b2","s":"Sim.LHCP","t":316.8,"d":-14},{"p":"b2","s":"Sim.LHCP","t":320.5,"d":-20.6},{"p":"b2","s":"Sim.LHCP","t":322,"d":-28},{"p":"b2","s":"Sim.LHCP","t":323.3,"d":-34.9},{"p":"b2","s":"Sim.LHCP","t":324,"d":-28.4},{"p":"b2","s":"Sim.LHCP","t":325,"d":-21.1},{"p":"b2","s":"Sim.LHCP","t":326.5,"d":-15.3},{"p":"b2","s":"Sim.LHCP","t":330.3,"d":-9.8},{"p":"b2","s":"Sim.LHCP","t":339.2,"d":-3.8},{"p":"b2","s":"Sim.LHCP","t":348.5,"d":-0.2},{"p":"b2","s":"Sim.LHCP","t":360,"d":0},
{"p":"b2","s":"Mea.LHCP","t":0,"d":-2.4},{"p":"b2","s":"Mea.LHCP","t":8,"d":-2.8},{"p":"b2","s":"Mea.LHCP","t":15.3,"d":-4.9},{"p":"b2","s":"Mea.LHCP","t":23,"d":-7.9},{"p":"b2","s":"Mea.LHCP","t":27.7,"d":-9.4},{"p":"b2","s":"Mea.LHCP","t":33.6,"d":-13.6},{"p":"b2","s":"Mea.LHCP","t":37.7,"d":-12.8},{"p":"b2","s":"Mea.LHCP","t":41.1,"d":-9.7},{"p":"b2","s":"Mea.LHCP","t":48.4,"d":-9.5},{"p":"b2","s":"Mea.LHCP","t":55.9,"d":-11.5},{"p":"b2","s":"Mea.LHCP","t":64.3,"d":-12.9},{"p":"b2","s":"Mea.LHCP","t":74.5,"d":-15.1},{"p":"b2","s":"Mea.LHCP","t":86.2,"d":-17.2},{"p":"b2","s":"Mea.LHCP","t":97.2,"d":-18.3},{"p":"b2","s":"Mea.LHCP","t":109.3,"d":-16.3},{"p":"b2","s":"Mea.LHCP","t":121.9,"d":-15.6},{"p":"b2","s":"Mea.LHCP","t":130,"d":-17.2},{"p":"b2","s":"Mea.LHCP","t":139.7,"d":-21.9},{"p":"b2","s":"Mea.LHCP","t":143,"d":-28},{"p":"b2","s":"Mea.LHCP","t":148,"d":-35},{"p":"b2","s":"Mea.LHCP","t":155,"d":-30},{"p":"b2","s":"Mea.LHCP","t":159.5,"d":-25.3},{"p":"b2","s":"Mea.LHCP","t":164.3,"d":-18.6},{"p":"b2","s":"Mea.LHCP","t":168.7,"d":-13.8},{"p":"b2","s":"Mea.LHCP","t":174.5,"d":-11.6},{"p":"b2","s":"Mea.LHCP","t":179.6,"d":-9.2},{"p":"b2","s":"Mea.LHCP","t":185.7,"d":-9.4},{"p":"b2","s":"Mea.LHCP","t":195.7,"d":-10.6},{"p":"b2","s":"Mea.LHCP","t":200.5,"d":-12.6},{"p":"b2","s":"Mea.LHCP","t":211.5,"d":-13.8},{"p":"b2","s":"Mea.LHCP","t":220.8,"d":-12.8},{"p":"b2","s":"Mea.LHCP","t":227.2,"d":-14.7},{"p":"b2","s":"Mea.LHCP","t":232,"d":-18},{"p":"b2","s":"Mea.LHCP","t":234.4,"d":-22.2},{"p":"b2","s":"Mea.LHCP","t":240,"d":-32},{"p":"b2","s":"Mea.LHCP","t":250,"d":-36},{"p":"b2","s":"Mea.LHCP","t":255,"d":-30},{"p":"b2","s":"Mea.LHCP","t":257.6,"d":-23.4},{"p":"b2","s":"Mea.LHCP","t":261.5,"d":-18.7},{"p":"b2","s":"Mea.LHCP","t":267.6,"d":-15.6},{"p":"b2","s":"Mea.LHCP","t":276.9,"d":-13},{"p":"b2","s":"Mea.LHCP","t":287.1,"d":-11.6},{"p":"b2","s":"Mea.LHCP","t":295.9,"d":-11.1},{"p":"b2","s":"Mea.LHCP","t":303.3,"d":-10.8},{"p":"b2","s":"Mea.LHCP","t":311.4,"d":-11.9},{"p":"b2","s":"Mea.LHCP","t":317.6,"d":-16},{"p":"b2","s":"Mea.LHCP","t":321.8,"d":-21.8},{"p":"b2","s":"Mea.LHCP","t":322.9,"d":-29.5},{"p":"b2","s":"Mea.LHCP","t":325,"d":-35},{"p":"b2","s":"Mea.LHCP","t":327,"d":-31.2},{"p":"b2","s":"Mea.LHCP","t":328.5,"d":-24.4},{"p":"b2","s":"Mea.LHCP","t":329,"d":-17.4},{"p":"b2","s":"Mea.LHCP","t":332.4,"d":-11.4},{"p":"b2","s":"Mea.LHCP","t":339,"d":-6.4},{"p":"b2","s":"Mea.LHCP","t":344.9,"d":-3.2},{"p":"b2","s":"Mea.LHCP","t":352,"d":-2.5},{"p":"b2","s":"Mea.LHCP","t":360,"d":-2.4},
{"p":"b2","s":"Sim.RHCP","t":0,"d":-19.5},{"p":"b2","s":"Sim.RHCP","t":5,"d":-24},{"p":"b2","s":"Sim.RHCP","t":10,"d":-32},{"p":"b2","s":"Sim.RHCP","t":16,"d":-34},{"p":"b2","s":"Sim.RHCP","t":24,"d":-26.2},{"p":"b2","s":"Sim.RHCP","t":32,"d":-24.5},{"p":"b2","s":"Sim.RHCP","t":42,"d":-27},{"p":"b2","s":"Sim.RHCP","t":52,"d":-31},{"p":"b2","s":"Sim.RHCP","t":60,"d":-30},{"p":"b2","s":"Sim.RHCP","t":64,"d":-28.8},{"p":"b2","s":"Sim.RHCP","t":75.5,"d":-22},{"p":"b2","s":"Sim.RHCP","t":88,"d":-20.5},{"p":"b2","s":"Sim.RHCP","t":100,"d":-20.2},{"p":"b2","s":"Sim.RHCP","t":115,"d":-21},{"p":"b2","s":"Sim.RHCP","t":125,"d":-22},{"p":"b2","s":"Sim.RHCP","t":134,"d":-20.5},{"p":"b2","s":"Sim.RHCP","t":150,"d":-18.2},{"p":"b2","s":"Sim.RHCP","t":162.6,"d":-14.4},{"p":"b2","s":"Sim.RHCP","t":173.6,"d":-12},{"p":"b2","s":"Sim.RHCP","t":183,"d":-14.2},{"p":"b2","s":"Sim.RHCP","t":196.5,"d":-16.3},{"p":"b2","s":"Sim.RHCP","t":207,"d":-19},{"p":"b2","s":"Sim.RHCP","t":217.9,"d":-20.4},{"p":"b2","s":"Sim.RHCP","t":235.8,"d":-21.5},{"p":"b2","s":"Sim.RHCP","t":257.2,"d":-23.9},{"p":"b2","s":"Sim.RHCP","t":275,"d":-24.5},{"p":"b2","s":"Sim.RHCP","t":290.3,"d":-25.8},{"p":"b2","s":"Sim.RHCP","t":300,"d":-28},{"p":"b2","s":"Sim.RHCP","t":307.5,"d":-30.5},{"p":"b2","s":"Sim.RHCP","t":318,"d":-34},{"p":"b2","s":"Sim.RHCP","t":330,"d":-30},{"p":"b2","s":"Sim.RHCP","t":342,"d":-25.9},{"p":"b2","s":"Sim.RHCP","t":350,"d":-21},{"p":"b2","s":"Sim.RHCP","t":360,"d":-19.5},
{"p":"b2","s":"Mea.RHCP","t":0,"d":-24},{"p":"b2","s":"Mea.RHCP","t":10,"d":-30},{"p":"b2","s":"Mea.RHCP","t":20,"d":-33},{"p":"b2","s":"Mea.RHCP","t":30,"d":-28},{"p":"b2","s":"Mea.RHCP","t":35,"d":-26.1},{"p":"b2","s":"Mea.RHCP","t":45,"d":-27},{"p":"b2","s":"Mea.RHCP","t":55,"d":-29},{"p":"b2","s":"Mea.RHCP","t":65,"d":-28},{"p":"b2","s":"Mea.RHCP","t":75,"d":-24},{"p":"b2","s":"Mea.RHCP","t":85,"d":-22},{"p":"b2","s":"Mea.RHCP","t":93,"d":-21.3},{"p":"b2","s":"Mea.RHCP","t":105,"d":-20.5},{"p":"b2","s":"Mea.RHCP","t":115.2,"d":-19.6},{"p":"b2","s":"Mea.RHCP","t":125,"d":-21},{"p":"b2","s":"Mea.RHCP","t":135,"d":-22},{"p":"b2","s":"Mea.RHCP","t":150.5,"d":-17.8},{"p":"b2","s":"Mea.RHCP","t":160,"d":-15.5},{"p":"b2","s":"Mea.RHCP","t":170.2,"d":-14.4},{"p":"b2","s":"Mea.RHCP","t":183.3,"d":-15.5},{"p":"b2","s":"Mea.RHCP","t":195,"d":-17},{"p":"b2","s":"Mea.RHCP","t":203.9,"d":-18.4},{"p":"b2","s":"Mea.RHCP","t":215,"d":-21},{"p":"b2","s":"Mea.RHCP","t":230,"d":-22},{"p":"b2","s":"Mea.RHCP","t":247.2,"d":-22},{"p":"b2","s":"Mea.RHCP","t":260,"d":-23},{"p":"b2","s":"Mea.RHCP","t":275,"d":-24},{"p":"b2","s":"Mea.RHCP","t":290,"d":-25},{"p":"b2","s":"Mea.RHCP","t":300.8,"d":-24.5},{"p":"b2","s":"Mea.RHCP","t":315,"d":-30},{"p":"b2","s":"Mea.RHCP","t":330,"d":-30},{"p":"b2","s":"Mea.RHCP","t":345.8,"d":-22.6},{"p":"b2","s":"Mea.RHCP","t":360,"d":-24}
]},
"columns":2,
"bounds":"flush",
"align":"none",
"spacing":{"row":224,"column":120},
"resolve":{"scale":{"x":"independent","y":"independent","color":"independent","strokeDash":"independent"},"legend":{"color":"independent","strokeDash":"independent"}},
"concat":[
{"width":322,"height":322,
"title":{"text":"(a)","orient":"bottom","anchor":"start","frame":"group","dx":401,"offset":49,"font":"Liberation Sans","fontSize":22,"fontWeight":"normal","color":"#333"},
"encoding":{"x":{"field":"x","type":"quantitative","scale":{"domain":[-1,1],"nice":false,"zero":false},"axis":null},"y":{"field":"y","type":"quantitative","scale":{"domain":[-1,1],"nice":false,"zero":false},"axis":{"orient":"left","offset":52,"values":[-1,-0.75,-0.5,-0.25,0,0.25,0.5,0.75,1],"labelExpr":"''+(40*abs(datum.value)-40)","title":null,"grid":false,"domainColor":"#999","tickColor":"#999","tickSize":5,"labelFont":"Liberation Serif","labelFontSize":20,"labelColor":"#222","labelPadding":3,"labelFlush":false,"labelOverlap":false}}},
"layer":[
{"data":{"name":"rings"},"transform":[{"flatten":["lv"]},{"calculate":"(datum.lv+40)/40*sin(datum.t*PI/180)","as":"x"},{"calculate":"(datum.lv+40)/40*cos(datum.t*PI/180)","as":"y"}],"mark":{"type":"line","interpolate":"cardinal-closed","color":"#b8b8b8","strokeWidth":1},"encoding":{"detail":{"field":"lv"},"order":{"field":"t","type":"quantitative"}}},
{"data":{"name":"spokes"},"transform":[{"filter":"datum.k=='major'"},{"calculate":"0","as":"x"},{"calculate":"0","as":"y"},{"calculate":"sin(datum.t*PI/180)","as":"x2"},{"calculate":"cos(datum.t*PI/180)","as":"y2"}],"mark":{"type":"rule","color":"#b8b8b8","strokeWidth":1},"encoding":{"x2":{"field":"x2"},"y2":{"field":"y2"}}},
{"data":{"name":"spokes"},"transform":[{"filter":"datum.k=='minor'"},{"calculate":"0.25*sin(datum.t*PI/180)","as":"x"},{"calculate":"0.25*cos(datum.t*PI/180)","as":"y"},{"calculate":"sin(datum.t*PI/180)","as":"x2"},{"calculate":"cos(datum.t*PI/180)","as":"y2"}],"mark":{"type":"rule","color":"#cccccc","strokeWidth":1,"strokeDash":[1,2]},"encoding":{"x2":{"field":"x2"},"y2":{"field":"y2"}}},
{"data":{"name":"spokes"},"transform":[{"filter":"datum.k=='major'"},{"calculate":"1.13*sin(datum.t*PI/180)","as":"x"},{"calculate":"1.13*cos(datum.t*PI/180)","as":"y"}],"mark":{"type":"text","font":"Liberation Serif","fontSize":20,"color":"#222","align":"center","baseline":"middle"},"encoding":{"text":{"field":"t","type":"nominal"}}},
{"data":{"name":"curves"},"transform":[{"filter":"datum.p=='a1' && indexof(datum.s,'Sim')==0"},{"calculate":"max(0,(datum.d+40)/40)","as":"r"},{"calculate":"datum.r*sin(datum.t*PI/180)","as":"x"},{"calculate":"datum.r*cos(datum.t*PI/180)","as":"y"}],"mark":{"type":"line","interpolate":"catmull-rom","strokeWidth":2.5},"encoding":{"order":{"field":"t","type":"quantitative"},
"color":{"field":"s","type":"nominal","scale":{"domain":["Sim.LHCP","Sim.RHCP","Mea.LHCP","Mea.RHCP"],"range":["#111111","#111111","#e3211c","#e3211c"]},"legend":{"orient":"none","legendX":83,"legendY":-114,"title":null,"symbolType":"stroke","symbolSize":1400,"symbolStrokeWidth":2.5,"labelFont":"Liberation Serif","labelFontSize":17,"labelColor":"#222","labelExpr":"datum.label+'(xoz)'","strokeColor":"#aaaaaa","fillColor":"#ffffff","padding":2,"rowPadding":0,"clipHeight":20,"labelOffset":2}},
"strokeDash":{"field":"s","type":"nominal","scale":{"domain":["Sim.LHCP","Sim.RHCP","Mea.LHCP","Mea.RHCP"],"range":[[1,0],[14,10],[1,0],[6,4]]},"legend":{"orient":"none","legendX":83,"legendY":-114,"title":null,"symbolType":"stroke","symbolSize":1400,"symbolStrokeWidth":2.5,"labelFont":"Liberation Serif","labelFontSize":17,"labelColor":"#222","labelExpr":"datum.label+'(xoz)'","strokeColor":"#aaaaaa","fillColor":"#ffffff","padding":2,"rowPadding":0,"clipHeight":20,"labelOffset":2}}}},
{"data":{"name":"curves"},"transform":[{"filter":"datum.p=='a1' && indexof(datum.s,'Mea')==0"},{"calculate":"max(0,(datum.d+40)/40)","as":"r"},{"calculate":"datum.r*sin(datum.t*PI/180)","as":"x"},{"calculate":"datum.r*cos(datum.t*PI/180)","as":"y"}],"mark":{"type":"line","interpolate":"linear","strokeWidth":2},"encoding":{"order":{"field":"t","type":"quantitative"},
"color":{"field":"s","type":"nominal","scale":{"domain":["Sim.LHCP","Sim.RHCP","Mea.LHCP","Mea.RHCP"],"range":["#111111","#111111","#e3211c","#e3211c"]},"legend":{"orient":"none","legendX":83,"legendY":-114,"title":null,"symbolType":"stroke","symbolSize":1400,"symbolStrokeWidth":2.5,"labelFont":"Liberation Serif","labelFontSize":17,"labelColor":"#222","labelExpr":"datum.label+'(xoz)'","strokeColor":"#aaaaaa","fillColor":"#ffffff","padding":2,"rowPadding":0,"clipHeight":20,"labelOffset":2}},
"strokeDash":{"field":"s","type":"nominal","scale":{"domain":["Sim.LHCP","Sim.RHCP","Mea.LHCP","Mea.RHCP"],"range":[[1,0],[14,10],[1,0],[6,4]]},"legend":{"orient":"none","legendX":83,"legendY":-114,"title":null,"symbolType":"stroke","symbolSize":1400,"symbolStrokeWidth":2.5,"labelFont":"Liberation Serif","labelFontSize":17,"labelColor":"#222","labelExpr":"datum.label+'(xoz)'","strokeColor":"#aaaaaa","fillColor":"#ffffff","padding":2,"rowPadding":0,"clipHeight":20,"labelOffset":2}}}}
]},
{"width":322,"height":322,
"encoding":{"x":{"field":"x","type":"quantitative","scale":{"domain":[-1,1],"nice":false,"zero":false},"axis":null},"y":{"field":"y","type":"quantitative","scale":{"domain":[-1,1],"nice":false,"zero":false},"axis":{"orient":"left","offset":52,"values":[-1,-0.75,-0.5,-0.25,0,0.25,0.5,0.75,1],"labelExpr":"''+(40*abs(datum.value)-40)","title":null,"grid":false,"domainColor":"#999","tickColor":"#999","tickSize":5,"labelFont":"Liberation Serif","labelFontSize":20,"labelColor":"#222","labelPadding":3,"labelFlush":false,"labelOverlap":false}}},
"layer":[
{"data":{"name":"rings"},"transform":[{"flatten":["lv"]},{"calculate":"(datum.lv+40)/40*sin(datum.t*PI/180)","as":"x"},{"calculate":"(datum.lv+40)/40*cos(datum.t*PI/180)","as":"y"}],"mark":{"type":"line","interpolate":"cardinal-closed","color":"#b8b8b8","strokeWidth":1},"encoding":{"detail":{"field":"lv"},"order":{"field":"t","type":"quantitative"}}},
{"data":{"name":"spokes"},"transform":[{"filter":"datum.k=='major'"},{"calculate":"0","as":"x"},{"calculate":"0","as":"y"},{"calculate":"sin(datum.t*PI/180)","as":"x2"},{"calculate":"cos(datum.t*PI/180)","as":"y2"}],"mark":{"type":"rule","color":"#b8b8b8","strokeWidth":1},"encoding":{"x2":{"field":"x2"},"y2":{"field":"y2"}}},
{"data":{"name":"spokes"},"transform":[{"filter":"datum.k=='minor'"},{"calculate":"0.25*sin(datum.t*PI/180)","as":"x"},{"calculate":"0.25*cos(datum.t*PI/180)","as":"y"},{"calculate":"sin(datum.t*PI/180)","as":"x2"},{"calculate":"cos(datum.t*PI/180)","as":"y2"}],"mark":{"type":"rule","color":"#cccccc","strokeWidth":1,"strokeDash":[1,2]},"encoding":{"x2":{"field":"x2"},"y2":{"field":"y2"}}},
{"data":{"name":"spokes"},"transform":[{"filter":"datum.k=='major'"},{"calculate":"1.13*sin(datum.t*PI/180)","as":"x"},{"calculate":"1.13*cos(datum.t*PI/180)","as":"y"}],"mark":{"type":"text","font":"Liberation Serif","fontSize":20,"color":"#222","align":"center","baseline":"middle"},"encoding":{"text":{"field":"t","type":"nominal"}}},
{"data":{"name":"curves"},"transform":[{"filter":"datum.p=='a2' && indexof(datum.s,'Sim')==0"},{"calculate":"max(0,(datum.d+40)/40)","as":"r"},{"calculate":"datum.r*sin(datum.t*PI/180)","as":"x"},{"calculate":"datum.r*cos(datum.t*PI/180)","as":"y"}],"mark":{"type":"line","interpolate":"catmull-rom","strokeWidth":2.5},"encoding":{"order":{"field":"t","type":"quantitative"},
"color":{"field":"s","type":"nominal","scale":{"domain":["Sim.LHCP","Sim.RHCP","Mea.LHCP","Mea.RHCP"],"range":["#111111","#111111","#e3211c","#e3211c"]},"legend":{"orient":"none","legendX":84,"legendY":-113,"title":null,"symbolType":"stroke","symbolSize":1400,"symbolStrokeWidth":2.5,"labelFont":"Liberation Serif","labelFontSize":17,"labelColor":"#222","labelExpr":"datum.label+'(yoz)'","strokeColor":"#aaaaaa","fillColor":"#ffffff","padding":2,"rowPadding":0,"clipHeight":20,"labelOffset":2}},
"strokeDash":{"field":"s","type":"nominal","scale":{"domain":["Sim.LHCP","Sim.RHCP","Mea.LHCP","Mea.RHCP"],"range":[[1,0],[14,10],[1,0],[14,10]]},"legend":{"orient":"none","legendX":84,"legendY":-113,"title":null,"symbolType":"stroke","symbolSize":1400,"symbolStrokeWidth":2.5,"labelFont":"Liberation Serif","labelFontSize":17,"labelColor":"#222","labelExpr":"datum.label+'(yoz)'","strokeColor":"#aaaaaa","fillColor":"#ffffff","padding":2,"rowPadding":0,"clipHeight":20,"labelOffset":2}}}},
{"data":{"name":"curves"},"transform":[{"filter":"datum.p=='a2' && indexof(datum.s,'Mea')==0"},{"calculate":"max(0,(datum.d+40)/40)","as":"r"},{"calculate":"datum.r*sin(datum.t*PI/180)","as":"x"},{"calculate":"datum.r*cos(datum.t*PI/180)","as":"y"}],"mark":{"type":"line","interpolate":"linear","strokeWidth":2},"encoding":{"order":{"field":"t","type":"quantitative"},
"color":{"field":"s","type":"nominal","scale":{"domain":["Sim.LHCP","Sim.RHCP","Mea.LHCP","Mea.RHCP"],"range":["#111111","#111111","#e3211c","#e3211c"]},"legend":{"orient":"none","legendX":84,"legendY":-113,"title":null,"symbolType":"stroke","symbolSize":1400,"symbolStrokeWidth":2.5,"labelFont":"Liberation Serif","labelFontSize":17,"labelColor":"#222","labelExpr":"datum.label+'(yoz)'","strokeColor":"#aaaaaa","fillColor":"#ffffff","padding":2,"rowPadding":0,"clipHeight":20,"labelOffset":2}},
"strokeDash":{"field":"s","type":"nominal","scale":{"domain":["Sim.LHCP","Sim.RHCP","Mea.LHCP","Mea.RHCP"],"range":[[1,0],[14,10],[1,0],[14,10]]},"legend":{"orient":"none","legendX":84,"legendY":-113,"title":null,"symbolType":"stroke","symbolSize":1400,"symbolStrokeWidth":2.5,"labelFont":"Liberation Serif","labelFontSize":17,"labelColor":"#222","labelExpr":"datum.label+'(yoz)'","strokeColor":"#aaaaaa","fillColor":"#ffffff","padding":2,"rowPadding":0,"clipHeight":20,"labelOffset":2}}}}
]},
{"width":325,"height":313,
"title":{"text":"(b)","orient":"bottom","anchor":"start","frame":"group","dx":401,"offset":45,"font":"Liberation Sans","fontSize":22,"fontWeight":"normal","color":"#333"},
"encoding":{"x":{"field":"x","type":"quantitative","scale":{"domain":[-1,1],"nice":false,"zero":false},"axis":null},"y":{"field":"y","type":"quantitative","scale":{"domain":[-1,1],"nice":false,"zero":false},"axis":{"orient":"left","offset":52,"values":[-1,-0.75,-0.5,-0.25,0,0.25,0.5,0.75,1],"labelExpr":"''+(40*abs(datum.value)-40)","title":null,"grid":false,"domainColor":"#999","tickColor":"#999","tickSize":5,"labelFont":"Liberation Serif","labelFontSize":20,"labelColor":"#222","labelPadding":3,"labelFlush":false,"labelOverlap":false}}},
"layer":[
{"data":{"name":"rings"},"transform":[{"flatten":["lv"]},{"calculate":"(datum.lv+40)/40*sin(datum.t*PI/180)","as":"x"},{"calculate":"(datum.lv+40)/40*cos(datum.t*PI/180)","as":"y"}],"mark":{"type":"line","interpolate":"cardinal-closed","color":"#b8b8b8","strokeWidth":1},"encoding":{"detail":{"field":"lv"},"order":{"field":"t","type":"quantitative"}}},
{"data":{"name":"spokes"},"transform":[{"filter":"datum.k=='major'"},{"calculate":"0","as":"x"},{"calculate":"0","as":"y"},{"calculate":"sin(datum.t*PI/180)","as":"x2"},{"calculate":"cos(datum.t*PI/180)","as":"y2"}],"mark":{"type":"rule","color":"#b8b8b8","strokeWidth":1},"encoding":{"x2":{"field":"x2"},"y2":{"field":"y2"}}},
{"data":{"name":"spokes"},"transform":[{"filter":"datum.k=='minor'"},{"calculate":"0.25*sin(datum.t*PI/180)","as":"x"},{"calculate":"0.25*cos(datum.t*PI/180)","as":"y"},{"calculate":"sin(datum.t*PI/180)","as":"x2"},{"calculate":"cos(datum.t*PI/180)","as":"y2"}],"mark":{"type":"rule","color":"#cccccc","strokeWidth":1,"strokeDash":[1,2]},"encoding":{"x2":{"field":"x2"},"y2":{"field":"y2"}}},
{"data":{"name":"spokes"},"transform":[{"filter":"datum.k=='major'"},{"calculate":"1.13*sin(datum.t*PI/180)","as":"x"},{"calculate":"1.13*cos(datum.t*PI/180)","as":"y"}],"mark":{"type":"text","font":"Liberation Serif","fontSize":20,"color":"#222","align":"center","baseline":"middle"},"encoding":{"text":{"field":"t","type":"nominal"}}},
{"data":{"name":"curves"},"transform":[{"filter":"datum.p=='b1' && indexof(datum.s,'Sim')==0"},{"calculate":"max(0,(datum.d+40)/40)","as":"r"},{"calculate":"datum.r*sin(datum.t*PI/180)","as":"x"},{"calculate":"datum.r*cos(datum.t*PI/180)","as":"y"}],"mark":{"type":"line","interpolate":"catmull-rom","strokeWidth":2.5},"encoding":{"order":{"field":"t","type":"quantitative"},
"color":{"field":"s","type":"nominal","scale":{"domain":["Sim.LHCP","Sim.RHCP","Mea.LHCP","Mea.RHCP"],"range":["#111111","#111111","#e3211c","#e3211c"]},"legend":{"orient":"none","legendX":85,"legendY":-113,"title":null,"symbolType":"stroke","symbolSize":1400,"symbolStrokeWidth":2.5,"labelFont":"Liberation Serif","labelFontSize":17,"labelColor":"#222","labelExpr":"datum.label+'(xoz)'","strokeColor":"#aaaaaa","fillColor":"#ffffff","padding":2,"rowPadding":0,"clipHeight":20,"labelOffset":2}},
"strokeDash":{"field":"s","type":"nominal","scale":{"domain":["Sim.LHCP","Sim.RHCP","Mea.LHCP","Mea.RHCP"],"range":[[1,0],[14,10],[1,0],[6,4]]},"legend":{"orient":"none","legendX":85,"legendY":-113,"title":null,"symbolType":"stroke","symbolSize":1400,"symbolStrokeWidth":2.5,"labelFont":"Liberation Serif","labelFontSize":17,"labelColor":"#222","labelExpr":"datum.label+'(xoz)'","strokeColor":"#aaaaaa","fillColor":"#ffffff","padding":2,"rowPadding":0,"clipHeight":20,"labelOffset":2}}}},
{"data":{"name":"curves"},"transform":[{"filter":"datum.p=='b1' && indexof(datum.s,'Mea')==0"},{"calculate":"max(0,(datum.d+40)/40)","as":"r"},{"calculate":"datum.r*sin(datum.t*PI/180)","as":"x"},{"calculate":"datum.r*cos(datum.t*PI/180)","as":"y"}],"mark":{"type":"line","interpolate":"linear","strokeWidth":2},"encoding":{"order":{"field":"t","type":"quantitative"},
"color":{"field":"s","type":"nominal","scale":{"domain":["Sim.LHCP","Sim.RHCP","Mea.LHCP","Mea.RHCP"],"range":["#111111","#111111","#e3211c","#e3211c"]},"legend":{"orient":"none","legendX":85,"legendY":-113,"title":null,"symbolType":"stroke","symbolSize":1400,"symbolStrokeWidth":2.5,"labelFont":"Liberation Serif","labelFontSize":17,"labelColor":"#222","labelExpr":"datum.label+'(xoz)'","strokeColor":"#aaaaaa","fillColor":"#ffffff","padding":2,"rowPadding":0,"clipHeight":20,"labelOffset":2}},
"strokeDash":{"field":"s","type":"nominal","scale":{"domain":["Sim.LHCP","Sim.RHCP","Mea.LHCP","Mea.RHCP"],"range":[[1,0],[14,10],[1,0],[6,4]]},"legend":{"orient":"none","legendX":85,"legendY":-113,"title":null,"symbolType":"stroke","symbolSize":1400,"symbolStrokeWidth":2.5,"labelFont":"Liberation Serif","labelFontSize":17,"labelColor":"#222","labelExpr":"datum.label+'(xoz)'","strokeColor":"#aaaaaa","fillColor":"#ffffff","padding":2,"rowPadding":0,"clipHeight":20,"labelOffset":2}}}}
]},
{"width":325,"height":313,
"encoding":{"x":{"field":"x","type":"quantitative","scale":{"domain":[-1,1],"nice":false,"zero":false},"axis":null},"y":{"field":"y","type":"quantitative","scale":{"domain":[-1,1],"nice":false,"zero":false},"axis":{"orient":"left","offset":52,"values":[-1,-0.75,-0.5,-0.25,0,0.25,0.5,0.75,1],"labelExpr":"''+(40*abs(datum.value)-40)","title":null,"grid":false,"domainColor":"#999","tickColor":"#999","tickSize":5,"labelFont":"Liberation Serif","labelFontSize":20,"labelColor":"#222","labelPadding":3,"labelFlush":false,"labelOverlap":false}}},
"layer":[
{"data":{"name":"rings"},"transform":[{"flatten":["lv"]},{"calculate":"(datum.lv+40)/40*sin(datum.t*PI/180)","as":"x"},{"calculate":"(datum.lv+40)/40*cos(datum.t*PI/180)","as":"y"}],"mark":{"type":"line","interpolate":"cardinal-closed","color":"#b8b8b8","strokeWidth":1},"encoding":{"detail":{"field":"lv"},"order":{"field":"t","type":"quantitative"}}},
{"data":{"name":"spokes"},"transform":[{"filter":"datum.k=='major'"},{"calculate":"0","as":"x"},{"calculate":"0","as":"y"},{"calculate":"sin(datum.t*PI/180)","as":"x2"},{"calculate":"cos(datum.t*PI/180)","as":"y2"}],"mark":{"type":"rule","color":"#b8b8b8","strokeWidth":1},"encoding":{"x2":{"field":"x2"},"y2":{"field":"y2"}}},
{"data":{"name":"spokes"},"transform":[{"filter":"datum.k=='minor'"},{"calculate":"0.25*sin(datum.t*PI/180)","as":"x"},{"calculate":"0.25*cos(datum.t*PI/180)","as":"y"},{"calculate":"sin(datum.t*PI/180)","as":"x2"},{"calculate":"cos(datum.t*PI/180)","as":"y2"}],"mark":{"type":"rule","color":"#cccccc","strokeWidth":1,"strokeDash":[1,2]},"encoding":{"x2":{"field":"x2"},"y2":{"field":"y2"}}},
{"data":{"name":"spokes"},"transform":[{"filter":"datum.k=='major'"},{"calculate":"1.13*sin(datum.t*PI/180)","as":"x"},{"calculate":"1.13*cos(datum.t*PI/180)","as":"y"}],"mark":{"type":"text","font":"Liberation Serif","fontSize":20,"color":"#222","align":"center","baseline":"middle"},"encoding":{"text":{"field":"t","type":"nominal"}}},
{"data":{"name":"curves"},"transform":[{"filter":"datum.p=='b2' && indexof(datum.s,'Sim')==0"},{"calculate":"max(0,(datum.d+40)/40)","as":"r"},{"calculate":"datum.r*sin(datum.t*PI/180)","as":"x"},{"calculate":"datum.r*cos(datum.t*PI/180)","as":"y"}],"mark":{"type":"line","interpolate":"catmull-rom","strokeWidth":2.5},"encoding":{"order":{"field":"t","type":"quantitative"},
"color":{"field":"s","type":"nominal","scale":{"domain":["Sim.LHCP","Sim.RHCP","Mea.LHCP","Mea.RHCP"],"range":["#111111","#111111","#e3211c","#e3211c"]},"legend":{"orient":"none","legendX":85,"legendY":-113,"title":null,"symbolType":"stroke","symbolSize":1400,"symbolStrokeWidth":2.5,"labelFont":"Liberation Serif","labelFontSize":17,"labelColor":"#222","labelExpr":"datum.label+'(yoz)'","strokeColor":"#aaaaaa","fillColor":"#ffffff","padding":2,"rowPadding":0,"clipHeight":20,"labelOffset":2}},
"strokeDash":{"field":"s","type":"nominal","scale":{"domain":["Sim.LHCP","Sim.RHCP","Mea.LHCP","Mea.RHCP"],"range":[[1,0],[14,10],[1,0],[14,10]]},"legend":{"orient":"none","legendX":85,"legendY":-113,"title":null,"symbolType":"stroke","symbolSize":1400,"symbolStrokeWidth":2.5,"labelFont":"Liberation Serif","labelFontSize":17,"labelColor":"#222","labelExpr":"datum.label+'(yoz)'","strokeColor":"#aaaaaa","fillColor":"#ffffff","padding":2,"rowPadding":0,"clipHeight":20,"labelOffset":2}}}},
{"data":{"name":"curves"},"transform":[{"filter":"datum.p=='b2' && indexof(datum.s,'Mea')==0"},{"calculate":"max(0,(datum.d+40)/40)","as":"r"},{"calculate":"datum.r*sin(datum.t*PI/180)","as":"x"},{"calculate":"datum.r*cos(datum.t*PI/180)","as":"y"}],"mark":{"type":"line","interpolate":"linear","strokeWidth":2},"encoding":{"order":{"field":"t","type":"quantitative"},
"color":{"field":"s","type":"nominal","scale":{"domain":["Sim.LHCP","Sim.RHCP","Mea.LHCP","Mea.RHCP"],"range":["#111111","#111111","#e3211c","#e3211c"]},"legend":{"orient":"none","legendX":85,"legendY":-113,"title":null,"symbolType":"stroke","symbolSize":1400,"symbolStrokeWidth":2.5,"labelFont":"Liberation Serif","labelFontSize":17,"labelColor":"#222","labelExpr":"datum.label+'(yoz)'","strokeColor":"#aaaaaa","fillColor":"#ffffff","padding":2,"rowPadding":0,"clipHeight":20,"labelOffset":2}},
"strokeDash":{"field":"s","type":"nominal","scale":{"domain":["Sim.LHCP","Sim.RHCP","Mea.LHCP","Mea.RHCP"],"range":[[1,0],[14,10],[1,0],[14,10]]},"legend":{"orient":"none","legendX":85,"legendY":-113,"title":null,"symbolType":"stroke","symbolSize":1400,"symbolStrokeWidth":2.5,"labelFont":"Liberation Serif","labelFontSize":17,"labelColor":"#222","labelExpr":"datum.label+'(yoz)'","strokeColor":"#aaaaaa","fillColor":"#ffffff","padding":2,"rowPadding":0,"clipHeight":20,"labelOffset":2}}}}
]}
]
}
